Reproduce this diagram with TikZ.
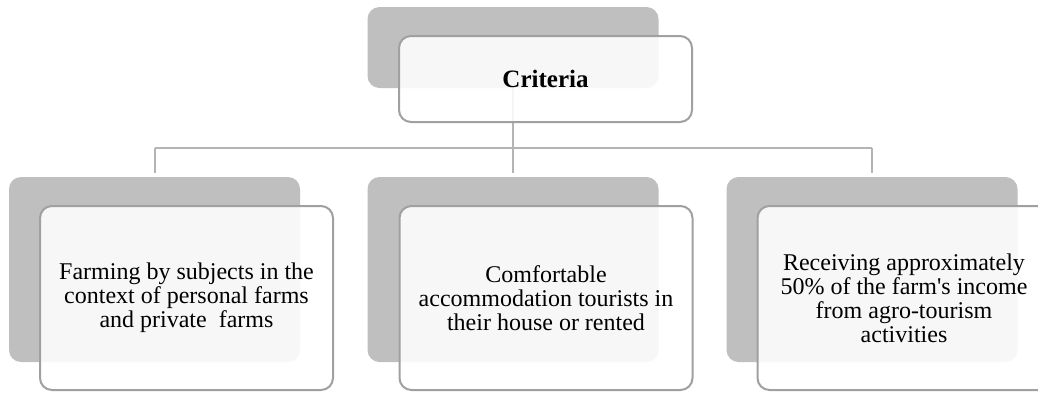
\documentclass[tikz,border=0pt]{standalone}
\usepackage{fontspec}
\setmainfont{Liberation Serif}[Ligatures=TeXOff]
\usepackage{tikz}
\usetikzlibrary{positioning, backgrounds, calc}

\definecolor{backgray}{HTML}{BFBFBF}
\definecolor{edgegray}{HTML}{A0A0A0}
\definecolor{linkgray}{HTML}{B4B4B4}

\tikzset{
  backcard/.style={rectangle, rounded corners=12pt, fill=backgray, draw=none, minimum width=291pt, inner sep=0pt},
  frontcard/.style={rectangle, rounded corners=12pt, fill=white, fill opacity=0.88, text opacity=1, draw=edgegray, line width=2pt, minimum width=293pt, inner sep=0pt, align=center, font=\fontsize{24}{24}\selectfont},
  link/.style={draw=linkgray, line width=2pt}
}

\begin{document}
\begin{tikzpicture}[x=1pt, y=-1pt]
\useasboundingbox[clip] (0,0) rectangle (1038,392);
\fill[white] (0,0) rectangle (1038,392);

\node [backcard, minimum height=81pt] (critback) at (513,47.5) {};
\node [backcard, minimum height=185pt] (farmback) at (154.5,269.5) {};
\node [backcard, minimum height=185pt] (stayback) at (513,269.5) {};
\node [backcard, minimum height=185pt] (incback) at (872,269.5) {};

\coordinate (bar) at (513,148);
\draw [link] (critback.south) -- (bar);
\draw [link] (farmback.north |- bar) -- (incback.north |- bar);
\draw [link] (farmback.north |- bar) -- ($(farmback.north)+(0,-4)$);
\draw [link] (stayback.north |- bar) -- ($(stayback.north)+(0,-4)$);
\draw [link] (incback.north |- bar) -- ($(incback.north)+(0,-4)$);

\node [frontcard, minimum height=86pt, font=\fontsize{25}{25}\selectfont] (crit) at (545.5,79) {\textbf{Criteria}};
\node [frontcard, minimum height=184pt] (farm) at (186.5,298) {Farming by subjects in the\\ context of personal farms\\ and private\ \ farms};
\node [frontcard, minimum height=184pt] (stay) at (546,298) {Comfortable\\ accommodation tourists in\\ their house or rented};
\node [frontcard, minimum height=184pt] (inc) at (904,298) {Receiving approximately\\ 50\% of the farm's income\\ from agro-tourism\\ activities};
\end{tikzpicture}
\end{document}
